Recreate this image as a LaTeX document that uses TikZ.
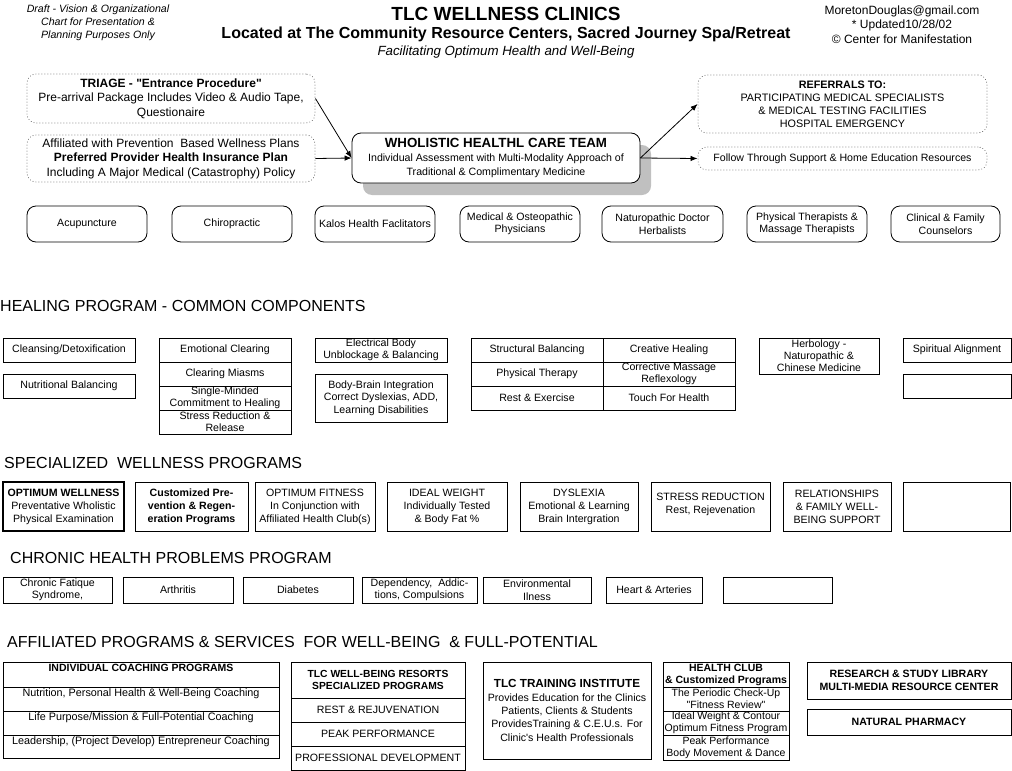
\documentclass[tikz,border=0pt]{standalone}
\usepackage{fontspec}
\setmainfont{Liberation Sans}[Ligatures=TeXOff]
\usetikzlibrary{arrows.meta}
\definecolor{shadowgray}{RGB}{192,192,192}
\newcommand{\fN}{\fontsize{10.6}{12.5}\selectfont}
\tikzset{
  sbox/.style={draw=black, line width=0.8pt, fill=white, inner sep=0pt},
  thickbox/.style={draw=black, line width=1.8pt, fill=white, inner sep=0pt},
  rbox/.style={sbox, rounded corners=9pt},
  dotbox/.style={draw=black!70, line width=0.9pt, dash pattern=on 0.1pt off 2.9pt, line cap=round, rounded corners=9pt, inner sep=0pt},
  shadowbox/.style={fill=shadowgray, rounded corners=9pt, inner sep=0pt},
  txt/.style={align=center, inner sep=0pt, font=\fN},
  hdr/.style={anchor=west, inner sep=0pt, font=\fontsize{16}{19}\selectfont},
  conn/.style={line width=0.8pt, -{Latex[length=7pt,width=5.5pt]}},
}
% #1 text options, #2 box style, #3 name, #4 x1, #5 y1, #6 x2, #7 y2, #8 text
\newcommand{\bx}[8][]{%
  \pgfmathsetmacro\bxw{#6-#4}%
  \pgfmathsetmacro\bxh{#7-#5}%
  \pgfmathsetmacro\bxcx{(#4+#6)/2}%
  \pgfmathsetmacro\bxcy{(#5+#7)/2}%
  \node[#2, minimum width=\bxw pt, minimum height=\bxh pt] (#3) at (\bxcx,\bxcy) {};%
  \node[txt,#1] (#3-t) at (#3.center) {#8};%
}
\begin{document}
\begin{tikzpicture}[x=1pt,y=-1pt]
\useasboundingbox (0,0) rectangle (1012,771);

% ---------- top texts ----------
\node[align=center, inner sep=0pt, font=\itshape\fontsize{10.6}{13}\selectfont] (draft) at (98,23)
  {Draft - Vision \& Organizational\\Chart for Presentation \&\\Planning Purposes Only};
\node[inner sep=0pt, font=\bfseries\fontsize{19}{20}\selectfont] (title) at (506,14) {TLC WELLNESS CLINICS};
\node[inner sep=0pt, font=\bfseries\fontsize{16}{18}\selectfont] (subtitle) at (506,34) {Located at The Community Resource Centers, Sacred Journey Spa/Retreat};
\node[inner sep=0pt, font=\itshape\fontsize{13.3}{15}\selectfont] (tagline) at (506,52) {Facilitating Optimum Health and Well-Being};
\node[align=center, inner sep=0pt, font=\fontsize{12}{14.5}\selectfont] (info) at (902,24.5)
  {MoretonDouglas@gmail.com\\* Updated10/28/02\\© Center for Manifestation};

% ---------- top flow ----------
\bx[font=\fontsize{12}{14.5}\selectfont]{dotbox}{triage}{27}{74}{315}{123}
  {{\bfseries TRIAGE - "Entrance Procedure"}\\Pre-arrival Package Includes Video \& Audio Tape,\\Questionaire}
\bx[font=\fontsize{12}{14.5}\selectfont]{dotbox}{affil}{27}{135}{315}{182}
  {Affiliated with Prevention~ Based Wellness Plans\\{\bfseries Preferred Provider Health Insurance Plan}\\Including A Major Medical (Catastrophy) Policy}
\bx{shadowbox}{shadow}{363}{145}{651}{195}{}
\bx[font=\fontsize{10.6}{14}\selectfont]{rbox}{central}{352}{133}{640}{183}
  {{\bfseries\fontsize{13.3}{14}\selectfont WHOLISTIC HEALTHL CARE TEAM}\\Individual Assessment with Multi-Modality Approach of\\Traditional \& Complimentary Medicine}
\bx[font=\fontsize{10.8}{13}\selectfont]{dotbox}{refer}{698}{75}{987}{133}
  {{\bfseries REFERRALS TO:}\\PARTICIPATING MEDICAL SPECIALISTS\\\& MEDICAL TESTING FACILITIES\\HOSPITAL EMERGENCY}
\bx{dotbox}{follow}{698}{147}{987}{170}{Follow Through Support \& Home Education Resources}

\draw[conn] (triage.east) -- (central.west);
\draw[conn] (affil.east) -- (central.west);
\draw[conn] (central.east) -- (refer.west);
\draw[conn] (central.east) -- (follow.west);

% ---------- practitioners ----------
\bx{rbox}{acu}{27}{206}{147}{242}{Acupuncture}
\bx{rbox}{chiro}{172}{206}{292}{242}{Chiropractic}
\bx{rbox}{kalos}{315}{206}{435}{242}{Kalos Health Faclitators}
\bx{rbox}{medical}{460}{206}{580}{242}{Medical \& Osteopathic\\Physicians}
\bx{rbox}{naturo}{602}{206}{723}{242}{Naturopathic Doctor\\Herbalists}
\bx{rbox}{physther}{747}{206}{867}{242}{Physical Therapists \&\\Massage Therapists}
\bx{rbox}{clinical}{891}{206}{1000}{242}{Clinical \& Family\\Counselors}

% ---------- healing program ----------
\node[hdr] (hp) at (0,306) {HEALING PROGRAM - COMMON COMPONENTS};
\bx{sbox}{cleanse}{3}{338}{135}{362}{Cleansing/Detoxification}
\bx{sbox}{nutri}{3}{374}{135}{398}{Nutritional Balancing}
\bx{sbox}{emo}{159}{338}{291}{362}{Emotional Clearing}
\bx{sbox}{miasm}{159}{362}{291}{386}{Clearing Miasms}
\bx[font=\fontsize{10.6}{12}\selectfont]{sbox}{single}{159}{386}{291}{410}{Single-Minded\\Commitment to Healing}
\bx[font=\fontsize{10.6}{12}\selectfont]{sbox}{stressrel}{159}{410}{291}{434}{Stress Reduction \&\\Release}
\bx[font=\fontsize{10.6}{12}\selectfont]{sbox}{elec}{315}{338}{447}{362}{Electrical Body\\Unblockage \& Balancing}
\bx{sbox}{bodybrain}{315}{374}{447}{422}{Body-Brain Integration\\Correct Dyslexias, ADD,\\Learning Disabilities}
\bx{sbox}{struct}{471}{338}{603}{362}{Structural Balancing}
\bx{sbox}{creative}{603}{338}{735}{362}{Creative Healing}
\bx{sbox}{phystherapy}{471}{362}{603}{386}{Physical Therapy}
\bx[font=\fontsize{10.6}{12}\selectfont]{sbox}{corrective}{603}{362}{735}{386}{Corrective Massage\\Reflexology}
\bx{sbox}{rest}{471}{386}{603}{410}{Rest \& Exercise}
\bx{sbox}{touch}{603}{386}{735}{410}{Touch For Health}
\bx[font=\fontsize{10.6}{12}\selectfont]{sbox}{herb}{759}{338}{879}{374}{Herbology -\\Naturopathic \&\\Chinese Medicine}
\bx{sbox}{spirit}{903}{338}{1011}{362}{Spiritual Alignment}
\bx{sbox}{emptyA}{903}{374}{1011}{398}{}

% ---------- specialized wellness ----------
\node[hdr] (swp) at (4,463) {SPECIALIZED\ \ WELLNESS PROGRAMS};
\bx[font=\fontsize{10.6}{13}\selectfont]{thickbox}{optwell}{3}{482}{124}{531}{{\bfseries OPTIMUM WELLNESS}\\Preventative Wholistic\\Physical Examination}
\bx[font=\bfseries\fontsize{10.6}{13}\selectfont]{sbox}{custom}{135}{482}{248}{531}{Customized Pre-\\vention \& Regen-\\eration Programs}
\bx[font=\fontsize{10.6}{13}\selectfont]{sbox}{optfit}{255}{482}{375}{531}{OPTIMUM FITNESS\\In Conjunction with\\Affiliated Health Club(s)}
\bx[font=\fontsize{10.6}{13}\selectfont]{sbox}{idealw}{387}{482}{507}{531}{IDEAL WEIGHT\\Individually Tested\\\& Body Fat \%}
\bx[font=\fontsize{10.6}{13}\selectfont]{sbox}{dyslexia}{520}{482}{638}{531}{DYSLEXIA\\Emotional \& Learning\\Brain Intergration}
\bx[font=\fontsize{10.6}{13}\selectfont, yshift=2pt]{sbox}{stressred}{651}{482}{770}{531}{STRESS REDUCTION\\Rest, Rejevenation}
\bx[font=\fontsize{10.6}{13}\selectfont]{sbox}{relation}{783}{482}{891}{531}{RELATIONSHIPS\\\& FAMILY WELL-\\BEING SUPPORT}
\bx{sbox}{emptyB}{903}{482}{1010}{531}{}

% ---------- chronic ----------
\node[hdr] (chp) at (10,558) {CHRONIC HEALTH PROBLEMS PROGRAM};
\bx{sbox}{cfs}{3}{577}{112}{603}{Chronic Fatique\\Syndrome,}
\bx{sbox}{arth}{123}{577}{233}{603}{Arthritis}
\bx{sbox}{diab}{243}{577}{353}{603}{Diabetes}
\bx{sbox}{depend}{362}{577}{477}{603}{Dependency,~ Addic-\\tions, Compulsions}
\bx{sbox}{environ}{483}{577}{591}{603}{Environmental\\Ilness}
\bx{sbox}{heart}{606}{577}{702}{603}{Heart \& Arteries}
\bx{sbox}{emptyC}{723}{577}{832}{603}{}

% ---------- affiliated ----------
\node[hdr] (aps) at (7,642) {AFFILIATED PROGRAMS \& SERVICES\ \ FOR WELL-BEING\ \ \& FULL-POTENTIAL};
\bx[font=\bfseries\fontsize{10.5}{12.5}\selectfont, yshift=6.5pt]{sbox}{coach0}{3}{662}{279}{687}{INDIVIDUAL COACHING PROGRAMS}
\bx[font=\fontsize{10.8}{12.5}\selectfont, yshift=5.5pt]{sbox}{coach1}{3}{687}{279}{711}{Nutrition, Personal Health \& Well-Being Coaching}
\bx[font=\fontsize{10.8}{12.5}\selectfont, yshift=5pt]{sbox}{coach2}{3}{711}{279}{735}{Life Purpose/Mission \& Full-Potential Coaching}
\bx[font=\fontsize{10.8}{12.5}\selectfont, yshift=4.5pt]{sbox}{coach3}{3}{735}{279}{758}{Leadership, (Project Develop) Entrepreneur Coaching}

\bx[font=\bfseries\fontsize{10.3}{12.5}\selectfont]{sbox}{resort0}{291}{662}{465}{698}{TLC WELL-BEING RESORTS\\SPECIALIZED PROGRAMS}
\bx{sbox}{resort1}{291}{698}{465}{722}{REST \& REJUVENATION}
\bx{sbox}{resort2}{291}{722}{465}{746}{PEAK PERFORMANCE}
\bx{sbox}{resort3}{291}{746}{465}{770}{PROFESSIONAL DEVELOPMENT}

\bx[font=\fontsize{10.6}{13.3}\selectfont]{sbox}{training}{483}{662}{651}{759}
  {{\bfseries\fontsize{11.7}{14}\selectfont TLC TRAINING INSTITUTE}\\Provides Education for the Clinics\\Patients, Clients \& Students\\ProvidesTraining \& C.E.U.s. For\\Clinic's Health Professionals}

\bx[font=\bfseries\fontsize{10.5}{12}\selectfont]{sbox}{club0}{663}{662}{789}{687}{HEALTH CLUB\\\& Customized Programs}
\bx[font=\fontsize{10.5}{12}\selectfont]{sbox}{club1}{663}{687}{789}{711}{The Periodic Check-Up\\"Fitness Review"}
\bx[font=\fontsize{10.5}{12}\selectfont]{sbox}{club2}{663}{711}{789}{735}{Ideal Weight \& Contour\\Optimum Fitness Program}
\bx[font=\fontsize{10.5}{12}\selectfont]{sbox}{club3}{663}{735}{789}{760}{Peak Performance\\Body Movement \& Dance}

\bx[font=\bfseries\fontsize{10.6}{13}\selectfont]{sbox}{library}{807}{662}{1011}{699}{RESEARCH \& STUDY LIBRARY\\MULTI-MEDIA RESOURCE CENTER}
\bx[font=\bfseries\fontsize{10.6}{13}\selectfont]{sbox}{pharmacy}{807}{709}{1011}{735}{NATURAL PHARMACY}
\end{tikzpicture}
\end{document}
